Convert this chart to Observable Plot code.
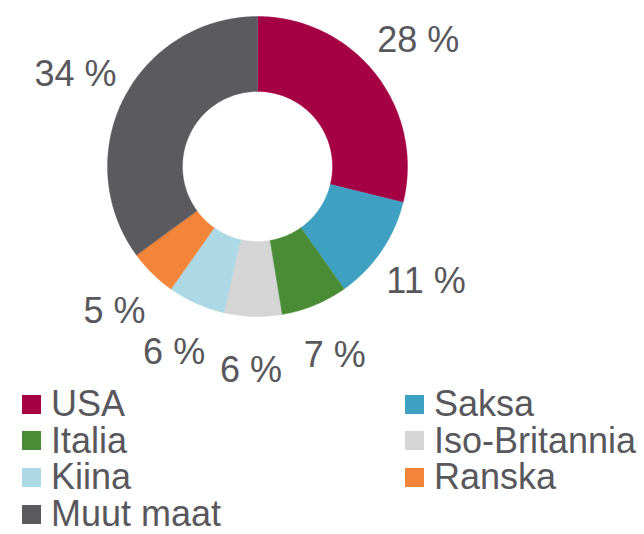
<!DOCTYPE html>
<html>
<head>
<meta charset="utf-8">
<script src="https://cdn.jsdelivr.net/npm/d3@7"></script>
<script src="https://cdn.jsdelivr.net/npm/@observablehq/plot@0.6"></script>
<style>
  html, body { margin: 0; padding: 0; background: #fff; }
  body { width: 644px; height: 534px; overflow: hidden; font-family: "Liberation Sans", Arial, sans-serif; }
  #legend { margin: 8px 0 0 22px; width: 790px; }
  .lg-swatches { font-family: "Liberation Sans", Arial, sans-serif !important; font-size: 36px !important; color: #58585c !important; line-height: 36.6px !important; margin: 0 !important; min-height: 0 !important; display: flex !important; flex-wrap: wrap !important; }
  .lg-swatch { width: 383px; flex: 0 0 383px; margin: 0 !important; display: inline-flex; align-items: center; white-space: nowrap; }
  .lg-swatch svg { width: 19px !important; height: 19px !important; margin-right: 10px !important; flex-shrink: 0; }
</style>
</head>
<body>
<div id="chart"></div>
<div id="legend"></div>
<script>
// Data
const countries = ["USA", "Saksa", "Italia", "Iso-Britannia", "Kiina", "Ranska", "Muut maat"];
const shares = [28, 11, 7, 6, 6, 5, 34];
const colors = ["#a60044", "#3ea1c1", "#4a8c35", "#d6d5d6", "#add9e6", "#f2853a", "#5b5a5f"];

const innerRatio = 0.5;
const labelRadius = 1.36;

const rows = countries.map((name, i) => ({name, value: shares[i]}));
const arcs = d3.pie().sort(null).value(d => d.value)(rows);

// Polygon points for each donut slice (in unit coordinates)
const slicePts = [];
for (const a of arcs) {
  const n = Math.max(4, Math.ceil((a.endAngle - a.startAngle) / (Math.PI / 180)));
  for (let k = 0; k <= n; k++) {
    const t = a.startAngle + (a.endAngle - a.startAngle) * k / n;
    slicePts.push({name: a.data.name, x: Math.sin(t), y: Math.cos(t)});
  }
  for (let k = n; k >= 0; k--) {
    const t = a.startAngle + (a.endAngle - a.startAngle) * k / n;
    slicePts.push({name: a.data.name, x: innerRatio * Math.sin(t), y: innerRatio * Math.cos(t)});
  }
}
const labels = arcs.map(a => {
  const m = (a.startAngle + a.endAngle) / 2;
  return {label: `${a.data.value} %`, x: labelRadius * Math.sin(m), y: labelRadius * Math.cos(m)};
});

const color = {type: "ordinal", domain: countries, range: colors};

const chart = Plot.plot({
  width: 644,
  height: 378,
  margin: 0,
  x: {domain: [-1, 1], range: [107, 407], axis: null},
  y: {domain: [-1, 1], range: [316, 16], axis: null},
  color,
  style: {fontFamily: "'Liberation Sans', Arial, sans-serif", background: "white", overflow: "visible"},
  marks: [
    Plot.line(slicePts, {x: "x", y: "y", z: "name", fill: "name", stroke: "name", strokeWidth: 0.4, curve: "linear-closed"}),
    Plot.text(labels, {x: "x", y: "y", text: "label", fontSize: 36, fill: "#58585c"})
  ]
});
document.getElementById("chart").appendChild(chart);

const legend = Plot.legend({color, className: "lg", swatchSize: 19});
document.getElementById("legend").appendChild(legend);
</script>
</body>
</html>
